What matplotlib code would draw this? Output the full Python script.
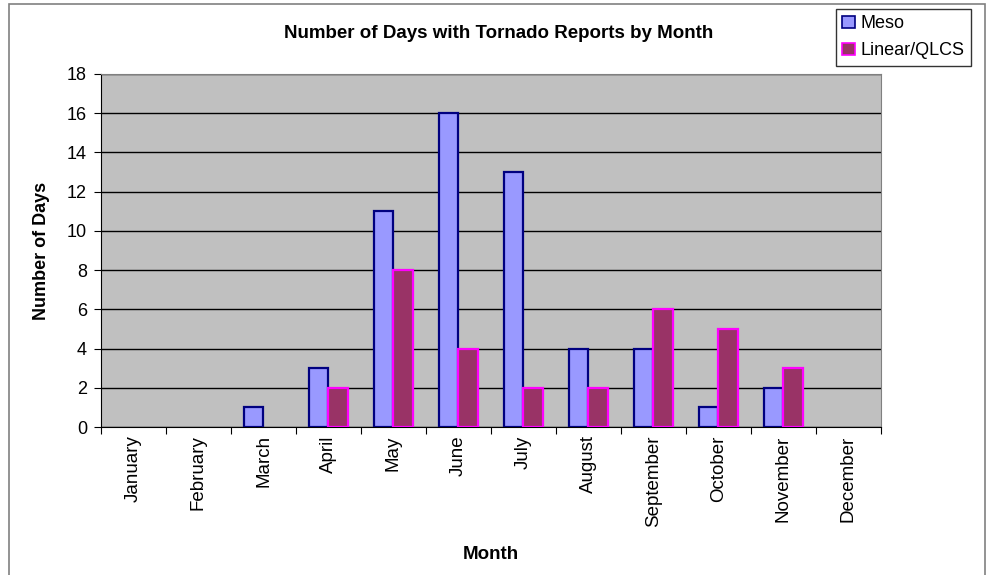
import numpy as np
import matplotlib
matplotlib.use('Agg')
from matplotlib import pyplot as plt
from matplotlib.patches import Rectangle, Patch

months = ['January', 'February', 'March', 'April', 'May', 'June', 'July',
          'August', 'September', 'October', 'November', 'December']
meso = [0, 0, 1, 3, 11, 16, 13, 4, 4, 1, 2, 0]
linear = [0, 0, 0, 2, 8, 4, 2, 2, 6, 5, 3, 0]

plt.rcParams['font.family'] = ['Liberation Sans', 'DejaVu Sans']

fig = plt.figure(figsize=(9.87, 5.75), dpi=100)
ax = fig.add_axes([101 / 987, 1 - 427 / 575, 780 / 987, 353 / 575])
ax.set_facecolor('#C0C0C0')

x = np.arange(len(months))
w = 1 / 3.3
b1 = ax.bar(x - w / 2, meso, w, color='#9999FF', edgecolor='#000080', linewidth=1.6, zorder=3)
b2 = ax.bar(x + w / 2, linear, w, color='#993366', edgecolor='#FF00FF', linewidth=1.6, zorder=3)
# Excel draws nothing for a zero value
for bars, vals in ((b1, meso), (b2, linear)):
    for r, v in zip(bars, vals):
        if v == 0:
            r.set_visible(False)

ax.set_xlim(-0.5, 11.5)
ax.set_ylim(0, 18)
ax.set_yticks(np.arange(0, 19, 2))
ax.yaxis.grid(True, color='black', linewidth=1, zorder=1)
ax.set_axisbelow(True)

ax.set_xticks(np.arange(-0.5, 12, 1))
ax.set_xticklabels([])
ax.set_xticks(x, minor=True)
ax.set_xticklabels(months, minor=True, rotation=90, fontsize=13.5)
ax.tick_params(axis='x', which='minor', length=0, pad=6)
ax.tick_params(axis='x', which='major', length=5, color='black')
ax.tick_params(axis='y', length=5, labelsize=13, pad=5)

for s in ('top', 'right'):
    ax.spines[s].set_color('#808080')
ax.spines['left'].set_color('black')
ax.spines['bottom'].set_color('black')

ax.set_ylabel('Number of Days', fontsize=13, fontweight='bold', labelpad=12)
ax.set_xlabel('Month', fontsize=13.5, fontweight='bold', labelpad=14)
fig.text(0.505, 1 - 33 / 575, 'Number of Days with Tornado Reports by Month',
         ha='center', va='center', fontsize=13.5, fontweight='bold')

handles = [Patch(facecolor='#9999FF', edgecolor='#000080', linewidth=1.2, label='Meso'),
           Patch(facecolor='#993366', edgecolor='#FF00FF', linewidth=1.2, label='Linear/QLCS')]
leg = ax.legend(handles=handles, loc='upper left', bbox_to_anchor=(836 / 987, 1 - 9 / 575),
                bbox_transform=fig.transFigure, fontsize=13, frameon=True,
                fancybox=False, edgecolor='black', handlelength=0.7,
                handleheight=0.7, handletextpad=0.3, borderpad=0.35,
                labelspacing=0.55, borderaxespad=0)
leg.get_frame().set_linewidth(1)

fig.patches.append(Rectangle((9 / 987, -0.01), 976 / 987, 1 - 4 / 575 + 0.01,
                             transform=fig.transFigure, fill=False,
                             edgecolor='#808080', linewidth=1.2))

fig.savefig('out.png', dpi=100)
